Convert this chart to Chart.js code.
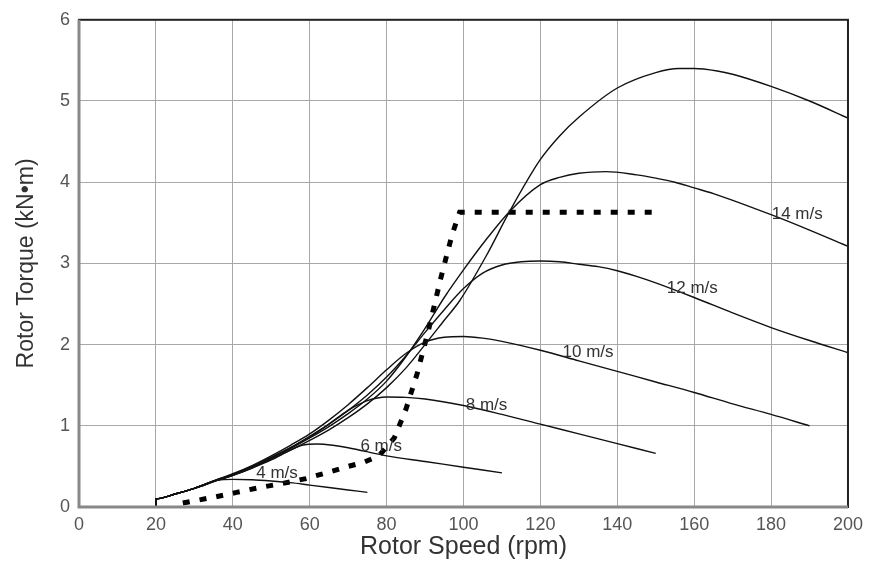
<!DOCTYPE html>
<html>
<head>
<meta charset="utf-8">
<script src="https://cdn.jsdelivr.net/npm/chart.js@4.4.1/dist/chart.umd.min.js"></script>
<style>
  html, body { margin: 0; padding: 0; background: #fff; }
  #wrap { width: 870px; height: 566px; }
</style>
</head>
<body>
<div id="wrap"><canvas id="myChart" width="870" height="566"></canvas></div>
<script>
// rotor torque vs rotor speed, one curve per wind speed
const rpm4 = [20, 20, 25, 30, 36, 40, 45, 50, 55, 60, 65, 70, 75];
const torque4 = [0, 0.1, 0.16, 0.23, 0.33, 0.34, 0.335, 0.32, 0.3, 0.27, 0.24, 0.21, 0.18];

const rpm6 = [20, 20, 25, 30, 36, 40, 45, 50, 55, 58, 62, 66, 70, 80, 90, 100, 110];
const torque6 = [0, 0.1, 0.16, 0.23, 0.33, 0.39, 0.48, 0.58, 0.7, 0.76, 0.775, 0.76, 0.73, 0.63, 0.56, 0.49, 0.42];

const rpm8 = [20, 20, 25, 30, 36, 40, 45, 50, 55, 60, 65, 70, 75, 80, 85, 90, 100, 110, 120, 130, 140, 150];
const torque8 = [0, 0.1, 0.16, 0.23, 0.33, 0.4, 0.5, 0.61, 0.73, 0.86, 1.02, 1.19, 1.31, 1.355, 1.35, 1.33, 1.25, 1.14, 1.02, 0.9, 0.78, 0.66];

const rpm10 = [20, 20, 25, 30, 36, 40, 45, 50, 55, 60, 65, 70, 75, 80, 85, 90, 95, 100, 105, 110, 120, 130, 140, 150, 160, 170, 180, 190];
const torque10 = [0, 0.1, 0.16, 0.23, 0.34, 0.41, 0.51, 0.63, 0.76, 0.9, 1.07, 1.26, 1.47, 1.69, 1.89, 2.03, 2.09, 2.1, 2.08, 2.04, 1.93, 1.8, 1.67, 1.54, 1.41, 1.27, 1.14, 1.0];

const rpm12 = [20, 20, 25, 30, 36, 40, 45, 50, 55, 60, 65, 70, 75, 80, 85, 90, 95, 100, 105, 110, 115, 120, 125, 130, 135, 140, 145, 150, 160, 170, 180, 190, 200];
const torque12 = [0, 0.1, 0.16, 0.23, 0.34, 0.4, 0.5, 0.61, 0.73, 0.87, 1.02, 1.19, 1.38, 1.6, 1.86, 2.15, 2.43, 2.69, 2.88, 2.98, 3.02, 3.03, 3.02, 2.99, 2.96, 2.91, 2.84, 2.76, 2.58, 2.39, 2.21, 2.05, 1.9];

const rpm14 = [20, 20, 25, 30, 36, 40, 45, 50, 55, 60, 65, 70, 75, 80, 85, 90, 95, 100, 106, 112, 120, 125, 130, 137, 145, 150, 155, 160, 165, 180, 190, 200];
const torque14 = [0, 0.1, 0.16, 0.23, 0.33, 0.39, 0.49, 0.6, 0.72, 0.85, 0.99, 1.15, 1.33, 1.55, 1.85, 2.2, 2.58, 2.92, 3.3, 3.64, 3.97, 4.06, 4.11, 4.13, 4.09, 4.05, 4.0, 3.93, 3.86, 3.6, 3.41, 3.21];

const rpm16 = [20, 20, 25, 30, 36, 40, 45, 50, 55, 60, 65, 70, 75, 80, 85, 90, 95, 99, 106, 112, 120, 125, 130, 140, 150, 156, 160, 166, 170, 180, 190, 200];
const torque16 = [0, 0.1, 0.16, 0.23, 0.33, 0.39, 0.48, 0.59, 0.7, 0.82, 0.95, 1.1, 1.27, 1.47, 1.71, 2.0, 2.3, 2.54, 3.1, 3.64, 4.28, 4.57, 4.8, 5.16, 5.35, 5.4, 5.4, 5.37, 5.33, 5.18, 5.0, 4.79];

// control trajectory (dotted)
const rpmCtrl = [27, 35, 41, 47, 53, 59, 65, 70, 74, 78, 82, 85, 88, 91, 94, 97, 99, 150];
const torqueCtrl = [0.05, 0.12, 0.18, 0.24, 0.29, 0.35, 0.43, 0.5, 0.55, 0.63, 0.85, 1.2, 1.65, 2.2, 2.8, 3.35, 3.63, 3.63];

// curve labels
const labelText = ["4 m/s", "6 m/s", "8 m/s", "10 m/s", "12 m/s", "14 m/s"];
const labelRpm = [51.5, 78.6, 106, 132.4, 159.5, 186.8];
const labelTorque = [0.42, 0.75, 1.25, 1.91, 2.69, 3.6];

const xTicks = [0, 20, 40, 60, 80, 100, 120, 140, 160, 180, 200];

function pts(xs, ys) {
  return xs.map((x, i) => ({ x: x, y: ys[i] }));
}

function curve(xs, ys) {
  return {
    data: pts(xs, ys),
    borderColor: "#111",
    borderWidth: 1.4,
    pointRadius: 0,
    fill: false,
    cubicInterpolationMode: "monotone",
  };
}

const curveLabels = {
  id: "curveLabels",
  afterDatasetsDraw(chart) {
    const { ctx, scales } = chart;
    ctx.save();
    ctx.font = "17px 'Liberation Sans', Arial, sans-serif";
    ctx.fillStyle = "#333";
    ctx.textAlign = "center";
    ctx.textBaseline = "middle";
    labelText.forEach((t, i) => {
      ctx.fillText(t, scales.x.getPixelForValue(labelRpm[i]), scales.y.getPixelForValue(labelTorque[i]));
    });
    ctx.restore();
  },
};

const frame = {
  id: "frame",
  afterDraw(chart) {
    const { ctx, chartArea: a } = chart;
    ctx.save();
    ctx.strokeStyle = "#222";
    ctx.lineWidth = 2;
    ctx.strokeRect(a.left, a.top, a.right - a.left, a.bottom - a.top);
    ctx.strokeStyle = "#888";
    ctx.lineWidth = 3;
    ctx.beginPath();
    ctx.moveTo(a.left, a.top);
    ctx.lineTo(a.left, a.bottom);
    ctx.lineTo(a.right, a.bottom);
    ctx.stroke();
    ctx.restore();
  },
};

const ctx = document.getElementById("myChart");

const newChart = new Chart(ctx, {
  type: "line",
  data: {
    datasets: [
      curve(rpm4, torque4),
      curve(rpm6, torque6),
      curve(rpm8, torque8),
      curve(rpm10, torque10),
      curve(rpm12, torque12),
      curve(rpm14, torque14),
      curve(rpm16, torque16),
      {
        data: pts(rpmCtrl, torqueCtrl),
        borderColor: "#000",
        borderWidth: 5,
        borderDash: [7, 10],
        borderCapStyle: "butt",
        pointRadius: 0,
        fill: false,
        tension: 0,
      },
    ],
  },
  options: {
    responsive: false,
    animation: false,
    layout: { padding: { top: 18, right: 22, left: 0, bottom: 0 } },
    plugins: {
      legend: { display: false },
      tooltip: { enabled: false },
    },
    scales: {
      x: {
        type: "linear",
        min: 0,
        max: 200,
        afterBuildTicks(axis) {
          axis.ticks = xTicks.map((v) => ({ value: v }));
        },
        afterFit(axis) {
          axis.height = 59;
        },
        grid: { color: "#a8a8a8", lineWidth: 1, drawTicks: false },
        border: { display: false },
        ticks: {
          padding: 7,
          color: "#555",
          font: { size: 18, family: "'Liberation Sans', Arial, sans-serif" },
        },
        title: {
          display: true,
          text: "Rotor Speed (rpm)",
          color: "#333",
          padding: { top: 0, bottom: 4 },
          font: { size: 25, family: "'Liberation Sans', Arial, sans-serif" },
        },
      },
      y: {
        min: 0,
        max: 6,
        afterFit(axis) {
          axis.width = 79;
        },
        grid: { color: "#a8a8a8", lineWidth: 1, drawTicks: false },
        border: { display: false },
        ticks: {
          stepSize: 1,
          padding: 9,
          color: "#555",
          font: { size: 18, family: "'Liberation Sans', Arial, sans-serif" },
        },
        title: {
          display: true,
          text: "Rotor Torque (kN\u2022m)",
          color: "#333",
          padding: { top: 13, bottom: 0 },
          font: { size: 23, family: "'Liberation Sans', Arial, sans-serif" },
        },
      },
    },
  },
  plugins: [curveLabels, frame],
});
</script>
</body>
</html>
